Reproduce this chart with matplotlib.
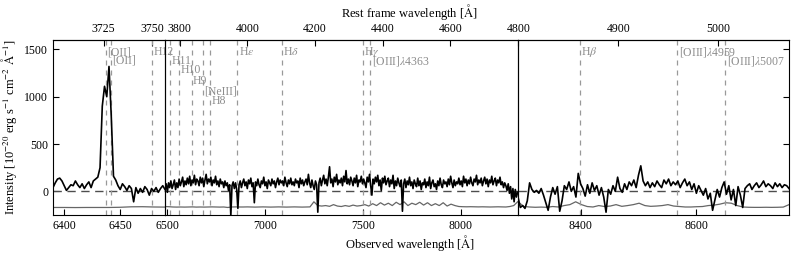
import numpy as np
import matplotlib
matplotlib.use("Agg")
import matplotlib.pyplot as plt

plt.rcParams['font.family'] = ['Liberation Serif', 'DejaVu Serif']
plt.rcParams['mathtext.fontset'] = 'stix'

# redshift factor (1+z)
zfac = 1.7276

# observed-frame spectrum, three wavelength windows
fl_left = [40, 90, 130, 140, 110, 60, 10, 40, 70, 60,
           110, 70, 40, 80, 30, 70, 100, 40, 110, 130,
           150, 250, 900, 1110, 1000, 1320, 800, 160, 120, 60,
           20, 80, 50, 10, 60, 30, -110, 40, -20, 30,
           -10, 50, 20, -40, 30, 0, 40, -10, 30, 60, 20]
err_left = [-170, -170, -171, -170, -170, -170, -168, -163, -162, -165, -166]

fl_mid = [20, 80, -10, 90, 40, 110, 30, 70, 120, 20,
          90, 40, 130, 60, 100, 150, 50, 110, 70, 140,
          80, 160, 60, 120, 90, 170, 70, 130, 110, 60,
          150, 90, 140, 50, 120, 180, 80, 130, 100, 150,
          60, 120, 90, 160, 70, 110, 50, 130, 80, 100,
          40, 110, 60, 90, 10, 70, -260, 60, 100, 30,
          90, 20, -180, 70, 110, 40, 90, 130, 60, 100,
          30, 120, 80, 140, 50, 90, -120, 100, 60, 130,
          70, 40, 110, 80, 150, 60, 100, 30, 120, 90,
          60, 130, 80, 110, 40, 100, 140, 70, 120, 90,
          110, 60, 150, 90, 50, 120, 80, 140, 70, 100,
          60, 130, 90, 110, 40, 140, 80, 120, 60, 100,
          130, 70, 180, 90, 40, 120, 60, 20, 110, 70,
          -220, 90, 140, 60, 120, 170, 80, 130, 60, 150,
          260, 90, 130, 50, 150, 100, 180, 70, 120, 90,
          140, 60, 160, 100, 220, 80, 130, 70, 150, 110,
          60, 140, 90, 170, 50, 120, 100, 160, 80, 130,
          90, 40, 150, 100, 180, 60, -40, 130, 80, 150,
          100, 170, 60, 120, 10, 140, 90, 160, 70, 110,
          140, 50, 120, 80, 170, 30, 110, 60, 140, 90,
          50, 120, -210, 80, 130, 40, 110, 70, 150, 60,
          100, 30, 120, 80, 50, 140, 60, 110, 20, 90,
          70, 130, 40, 100, 60, 150, 30, 90, 120, 50,
          80, 20, 110, 60, 140, 70, 40, 120, 80, 100,
          50, 130, 70, 160, 90, 40, 120, 60, 100, 80,
          140, 70, 110, 50, 160, 90, 130, 60, 120, 80,
          150, 90, 60, 130, 100, 170, 70, 120, 90, 140,
          60, 110, 150, 80, 130, 50, 120, 90, 160, 70,
          110, 140, 60, 120, 90, 150, 70, 100, 40, 90,
          60, 10, 80, -20, 50, -80, 30, -110, 20, -60,
          -10]
err_mid = [-160, -162, -165, -166, -165, -166, -165, -164, -166, -165,
           -166, -165, -164, -165, -166, -165, -170, -165, -164, -165,
           -165, -164, -165, -166, -165, -164, -165, -166, -165, -164,
           -165, -166, -165, -164, -165, -166, -165, -164, -110, -150,
           -155, -150, -158, -140, -155, -160, -150, -158, -145, -155,
           -150, -140, -155, -130, -150, -120, -145, -125, -150, -115,
           -140, -110, -150, -125, -140, -115, -145, -120, -150, -130,
           -150, -120, -155, -135, -150, -160, -162, -163, -162, -163,
           -164, -163, -164, -165, -164, -163, -164, -165, -160, -150,
           -110]

fl_right = [-60, -170, -150, -180, -100, 90, 20, -10, 10, -20,
            30, -40, -120, -200, -60, 40, -30, 50, -210, -100,
            60, 20, 100, 0, 50, -60, 190, 80, 30, -50,
            70, -20, 90, 10, 60, -40, 40, -60, -220, 20,
            -30, 60, 0, 150, 30, -10, 80, 20, 100, 60,
            120, 40, 170, 270, 110, 60, 100, 40, 90, 50,
            110, 70, 40, 120, 80, 130, 60, 100, 70, 110,
            40, 90, 130, 60, 100, 20, 80, -20, 60, 10,
            -40, 30, -80, -20, -200, -90, 20, -60, 40, 100,
            -30, 60, -90, 20, -150, 50, -40, -170, 30, 60,
            80, 20, 60, 90, 40, 70, 110, 50, 80, 60,
            30, 90, 50, 80, 40, 70, 60, 30]
err_right = [-110, -160, -165, -168, -166, -168, -160, -165, -150, -140,
             -110, -140, -160, -165, -150, -160, -155, -140, -158, -150,
             -140, -125, -150, -158, -155, -150, -140, -155, -160, -165,
             -165, -162, -160, -150, -145, -135, -120, -125, -150, -165,
             -168, -169, -169, -168, -169, -168, -166, -140]

# emission lines: label, rest wavelength, label height
lines = [("[OII]", 3726.03, 1470), ("[OII]", 3728.82, 1380),
         ("H12", 3750.15, 1470), ("H11", 3770.63, 1380),
         ("H10", 3797.90, 1280), ("H9", 3835.38, 1170),
         ("[NeIII]", 3868.76, 1060), ("H8", 3889.05, 950),
         (r"H$\varepsilon$", 3970.07, 1470), (r"H$\delta$", 4101.74, 1470),
         (r"H$\gamma$", 4340.47, 1470), (r"[OIII]$\lambda$4363", 4363.21, 1380),
         (r"H$\beta$", 4861.33, 1470), (r"[OIII]$\lambda$4959", 4958.91, 1470),
         (r"[OIII]$\lambda$5007", 5006.84, 1380)]

panels = [
    dict(wl=np.linspace(6390, 6490, len(fl_left)), fl=fl_left,
         ewl=np.linspace(6390, 6490, len(err_left)), err=err_left,
         xlim=(6390, 6490), ticks=[6400, 6450], rest=[3725, 3750]),
    dict(wl=np.linspace(6490, 8290, len(fl_mid)), fl=fl_mid,
         ewl=np.linspace(6490, 8290, len(err_mid)), err=err_mid,
         xlim=(6490, 8292), ticks=[6500, 7000, 7500, 8000],
         rest=[3800, 4000, 4200, 4400, 4600]),
    dict(wl=np.linspace(8292, 8760, len(fl_right)), fl=fl_right,
         ewl=np.linspace(8292, 8760, len(err_right)), err=err_right,
         xlim=(8292, 8760), ticks=[8400, 8600], rest=[4800, 4900, 5000]),
]

fig = plt.figure(figsize=(7.97, 2.56), dpi=100)
gs = fig.add_gridspec(1, 3, width_ratios=[112, 353, 271], wspace=0,
                      left=0.0665, right=0.99, bottom=0.16, top=0.844)

for i, p in enumerate(panels):
    ax = fig.add_subplot(gs[0, i])
    ax.patch.set_visible(False)
    ax.plot(p['ewl'], p['err'], color='0.4', lw=0.9)
    ax.axhline(0, color='0.3', ls='--', dashes=(6, 4), lw=1)
    for name, rest, yl in lines:
        x = rest * zfac
        if p['xlim'][0] < x < p['xlim'][1]:
            ax.axvline(x, color='0.6', ls='--', dashes=(4, 4), lw=0.9)
            ax.annotate(name, (x, yl), xytext=(1, 0), textcoords='offset points',
                        color='0.55', fontsize=8.5, ha='left', va='center',
                        annotation_clip=False, zorder=5)
    ax.plot(p['wl'], p['fl'], color='k', lw=1.2)
    ax.set_xlim(*p['xlim'])
    ax.set_ylim(-250, 1600)
    ax.set_xticks(p['ticks'])
    ax.tick_params(direction='in', length=4, width=0.8, labelsize=8.5)
    if i == 0:
        ax.set_yticks([0, 500, 1000, 1500])
        ax.set_ylabel(r"Intensity [10$^{-20}$ erg s$^{-1}$ cm$^{-2}$ $\mathrm{\AA}^{-1}$]",
                      fontsize=9)
    elif i == 2:
        ax.yaxis.tick_right()
        ax.set_yticks([0, 500, 1000, 1500])
        ax.tick_params(axis='y', labelright=False)
    else:
        ax.set_yticks([])
    top = ax.secondary_xaxis('top', functions=(lambda w: w / zfac, lambda r: r * zfac))
    top.set_xticks(p['rest'])
    top.tick_params(direction='in', length=4, width=0.8, labelsize=8.5)

fig.text(0.514, 0.955, r"Rest frame wavelength [$\mathrm{\AA}$]", ha='center', va='center', fontsize=9)
fig.text(0.514, 0.05, r"Observed wavelength [$\mathrm{\AA}$]", ha='center', va='center', fontsize=9)

fig.savefig("out.png", dpi=100)
